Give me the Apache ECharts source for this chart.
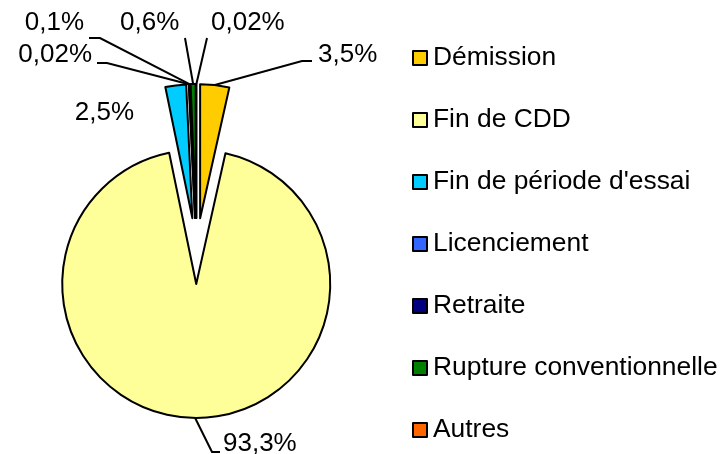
<!DOCTYPE html>
<html>
<head>
<meta charset="utf-8">
<script src="https://cdn.jsdelivr.net/npm/echarts@6/dist/echarts.min.js"></script>
<style>
  html, body { margin: 0; padding: 0; background: #fff; }
  #chart { width: 722px; height: 454px; }
</style>
</head>
<body>
<div id="chart"></div>
<script>
const categories = ['Démission', 'Fin de CDD', "Fin de période d'essai", 'Licenciement', 'Retraite', 'Rupture conventionnelle', 'Autres'];
const values = [3.5, 93.3, 2.5, 0.02, 0.1, 0.6, 0.02];
const colors = ['#FFCC00', '#FFFF99', '#00CCFF', '#3366FF', '#000080', '#008000', '#FF6600'];

// label anchor and the bend of its leader line (null = no line)
const labelSpots = [
  { x: 318, y: 55, align: 'left', bend: [[302, 61], [312, 61]] },
  { x: 223, y: 444, align: 'left', bend: [[212, 452], [220, 452]] },
  { x: 134, y: 113, align: 'right', bend: null },
  { x: 92, y: 55, align: 'right', bend: [[107, 63], [97, 63]] },
  { x: 84, y: 23, align: 'right', bend: [[100, 38], [89, 38]] },
  { x: 120, y: 23, align: 'left', bend: [[185, 38]] },
  { x: 211, y: 23, align: 'left', bend: [[207, 38]] }
];

const pieCenter = [196.5, 251];
const explode = 33;
const total = values.reduce((a, b) => a + b, 0);

const chart = echarts.init(document.getElementById('chart'));

// one pie per slice, each shifted out along its own mid angle (exploded pie)
let cum = 0;
const series = values.map((v, k) => {
  const mid = 2 * Math.PI * (cum + v / 2) / total;
  cum += v;
  return {
    type: 'pie',
    center: [pieCenter[0] + explode * Math.sin(mid), pieCenter[1] - explode * Math.cos(mid)],
    radius: 134,
    startAngle: 90,
    clockwise: true,
    avoidLabelOverlap: false,
    emphasis: { disabled: true },
    label: {
      position: 'outside',
      fontSize: 26,
      color: '#000',
      formatter: p => String(p.value).replace('.', ',') + '%'
    },
    labelLine: { lineStyle: { color: '#000', width: 2 } },
    labelLayout: function (params) {
      if (params.dataIndex !== k) return {};
      const s = labelSpots[k];
      const out = { x: s.x, y: s.y, align: s.align, verticalAlign: 'middle' };
      const start = params.labelLinePoints ? params.labelLinePoints[0] : null;
      if (s.bend && start) out.labelLinePoints = [start].concat(s.bend);
      return out;
    },
    data: categories.map((name, i) => ({
      name: name,
      value: values[i],
      itemStyle: i === k
        ? { color: colors[i], borderColor: '#000', borderWidth: 2 }
        : { color: colors[i], opacity: 0, borderWidth: 0 },
      label: { show: i === k },
      labelLine: { show: i === k && labelSpots[i].bend !== null }
    }))
  };
});

chart.setOption({
  animation: false,
  textStyle: { fontFamily: 'Liberation Sans, Arial, sans-serif' },
  legend: {
    orient: 'vertical',
    left: 412,
    top: 45,
    padding: 0,
    itemWidth: 14,
    itemHeight: 14,
    itemGap: 36,
    icon: 'rect',
    selectedMode: false,
    textStyle: { fontSize: 26.4, color: '#000', padding: [0, 0, 0, 1] },
    data: categories.map((name, i) => ({
      name: name,
      itemStyle: { color: colors[i], opacity: 1, borderColor: '#000', borderWidth: 2 }
    }))
  },
  series: series
});
</script>
</body>
</html>
